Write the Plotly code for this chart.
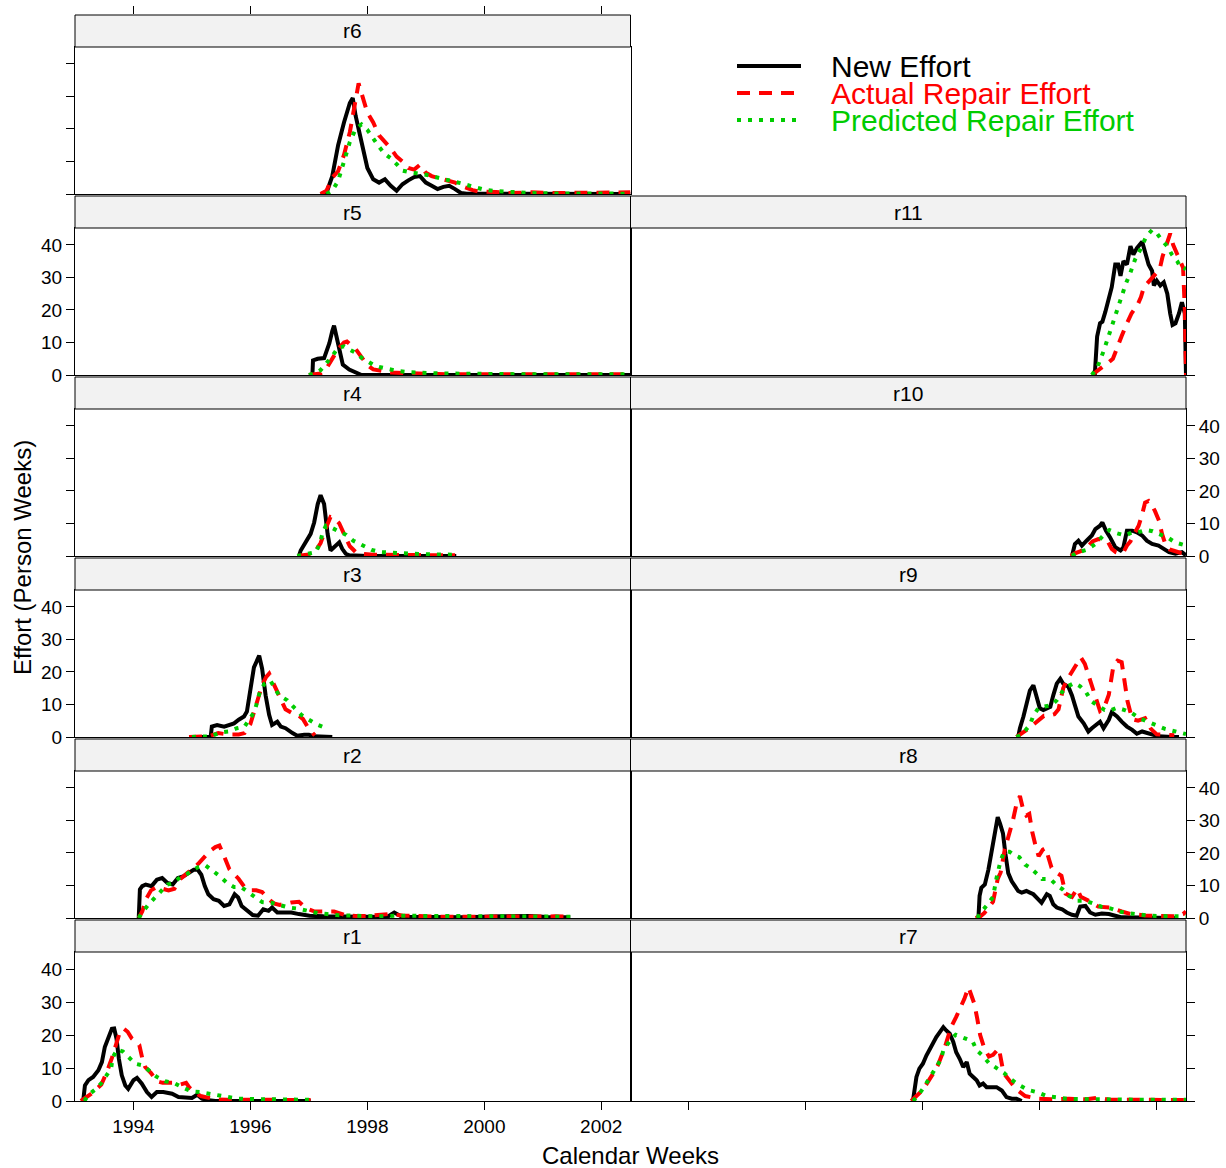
import plotly.graph_objects as go

# ---------------- data (years, person-weeks) ----------------
r6_new_x = [1997.2, 1997.3, 1997.4, 1997.5, 1997.6, 1997.7, 1997.75, 1997.8, 1997.9, 1998.0, 1998.1, 1998.2, 1998.3, 1998.4, 1998.5, 1998.6, 1998.7, 1998.8, 1998.9, 1999.0, 1999.1, 1999.2, 1999.3, 1999.4, 1999.5, 1999.6, 1999.7, 1999.8, 2000.0, 2001.0, 2002.0, 2002.5]
r6_new_y = [0, 0.3, 5.5, 15, 22, 28, 29.5, 24, 16, 8, 4.5, 3.5, 4.5, 2.5, 1, 3, 4.2, 5.2, 5.5, 3.5, 2.5, 1.5, 2.2, 2.5, 1.5, 0.3, 0.1, 0.1, 0, 0, 0, 0]
r6_act_x = [1997.2, 1997.3, 1997.4, 1997.5, 1997.6, 1997.7, 1997.8, 1997.85, 1997.9, 1998.0, 1998.1, 1998.2, 1998.3, 1998.4, 1998.5, 1998.6, 1998.7, 1998.8, 1998.9, 1999.0, 1999.1, 1999.2, 1999.3, 1999.4, 1999.5, 1999.6, 1999.7, 1999.8, 1999.9, 2000.0, 2000.2, 2000.4, 2000.8, 2001.2, 2001.6, 2002.0, 2002.5]
r6_act_y = [0, 1, 5, 7, 12, 19, 29, 34, 31, 25, 22, 18, 16, 14, 11.5, 10, 8, 7.5, 9, 6.5, 5.5, 5, 4.5, 4.2, 3.5, 2.5, 1.8, 1.2, 0.8, 0.8, 0.6, 0.3, 0.5, 0.3, 0.4, 0.3, 0.5]
r6_pred_x = [1997.3, 1997.4, 1997.5, 1997.6, 1997.7, 1997.8, 1997.9, 1998.0, 1998.1, 1998.2, 1998.3, 1998.4, 1998.5, 1998.6, 1998.7, 1998.8, 1998.9, 1999.0, 1999.1, 1999.2, 1999.3, 1999.4, 1999.5, 1999.6, 1999.7, 1999.8, 1999.9, 2000.0, 2000.2, 2000.4, 2000.6, 2000.8, 2001.0, 2001.5, 2002.0, 2002.5]
r6_pred_y = [0, 1, 4, 10, 16, 20, 21.4, 19.7, 17, 14.5, 12.3, 11, 9.2, 7.2, 6.8, 6.6, 6.2, 5.9, 5.5, 5.1, 4.8, 4.3, 3.7, 3.3, 2.8, 2.2, 1.7, 1.3, 0.9, 0.6, 0.4, 0.3, 0.2, 0.15, 0.1, 0.1]

r5_new_x = [1997.0, 1997.06, 1997.07, 1997.15, 1997.26, 1997.3, 1997.35, 1997.4, 1997.43, 1997.47, 1997.52, 1997.58, 1997.69, 1997.83, 1997.9, 2002.5]
r5_new_y = [0, 0, 4.5, 5, 5.2, 7, 9.8, 13.5, 15.2, 12, 7.8, 3.2, 1.7, 0.7, 0, 0]
r5_act_x = [1997.0, 1997.1, 1997.2, 1997.3, 1997.4, 1997.5, 1997.6, 1997.65, 1997.7, 1997.8, 1997.9, 1998.0, 1998.1, 1998.2, 1998.3, 1998.4, 1998.6, 1998.9, 1999.2, 1999.6, 2000.0, 2001.0, 2002.0, 2002.5]
r5_act_y = [0, 0.2, 0.5, 2, 5, 8, 10, 10.3, 9.5, 8, 5.5, 3, 1.7, 1.3, 1, 0.8, 0.6, 0.6, 0.3, 0.2, 0.2, 0.2, 0.2, 0.2]
r5_pred_x = [1997.0, 1997.1, 1997.2, 1997.3, 1997.4, 1997.5, 1997.6, 1997.7, 1997.8, 1997.9, 1998.0, 1998.1, 1998.2, 1998.3, 1998.4, 1998.5, 1998.7, 1998.9, 1999.2, 1999.6, 2000.0, 2001.0, 2002.5]
r5_pred_y = [0, 0.5, 1.5, 3.5, 5.8, 8.4, 8.8, 7.8, 6.8, 5.3, 4.2, 3.2, 2.5, 2, 1.6, 1.3, 0.9, 0.7, 0.5, 0.4, 0.3, 0.2, 0.2]

r4_new_x = [1996.8, 1996.83, 1996.86, 1996.95, 1997.03, 1997.09, 1997.15, 1997.2, 1997.26, 1997.32, 1997.37, 1997.43, 1997.52, 1997.57, 1997.63, 1997.69, 1998.0, 1999.52]
r4_new_y = [0, 0, 1.7, 4.7, 6.8, 10.3, 15.9, 18.7, 16, 6.8, 1.7, 2.7, 4.2, 2.2, 0.7, 0.2, 0, 0]
r4_act_x = [1996.8, 1996.9, 1997.0, 1997.1, 1997.2, 1997.3, 1997.37, 1997.45, 1997.52, 1997.6, 1997.7, 1997.8, 1997.9, 1998.1, 1998.5, 1999.0, 1999.5]
r4_act_y = [0, 0.3, 0.5, 1.2, 4, 9, 12, 11.5, 10, 6.8, 3, 1.2, 0.7, 0.4, 0.3, 0.3, 0.2]
r4_pred_x = [1996.8, 1996.95, 1997.12, 1997.19, 1997.23, 1997.29, 1997.38, 1997.52, 1997.64, 1997.76, 1997.92, 1998.07, 1998.23, 1998.4, 1998.57, 1998.75, 1998.92, 1999.09, 1999.26, 1999.5]
r4_pred_y = [0, 0.7, 1.2, 4, 6.8, 9.3, 8.8, 7.5, 6.5, 4.7, 3.2, 1.9, 1.2, 1, 0.9, 0.7, 0.6, 0.5, 0.4, 0.4]

r3_new_x = [1994.97, 1995.32, 1995.34, 1995.43, 1995.55, 1995.63, 1995.72, 1995.8, 1995.89, 1995.94, 1996.0, 1996.06, 1996.15, 1996.2, 1996.26, 1996.32, 1996.37, 1996.46, 1996.52, 1996.6, 1996.72, 1996.8, 1996.92, 1997.0, 1997.09, 1997.4]
r3_new_y = [0, 0, 3.2, 3.7, 3.2, 3.7, 4.2, 5.3, 6.3, 7.8, 14.8, 21.4, 25, 21, 12.8, 6.8, 3.7, 4.7, 3.2, 2.7, 1.2, 0.4, 0.7, 0.7, 0.2, 0]
r3_act_x = [1994.95, 1995.1, 1995.3, 1995.45, 1995.6, 1995.8, 1995.9, 1996.0, 1996.08, 1996.15, 1996.2, 1996.27, 1996.32, 1996.38, 1996.46, 1996.53, 1996.6, 1996.7, 1996.8, 1996.9, 1997.0, 1997.1]
r3_act_y = [0, 0, 0.3, 1.2, 0.8, 0.8, 1.2, 4, 8.5, 13, 16, 18.5, 19.5, 17, 14, 11, 8.5, 7.5, 7, 5.5, 2.5, 0.5]
r3_pred_x = [1995.0, 1995.32, 1995.48, 1995.63, 1995.77, 1995.9, 1996.07, 1996.16, 1996.24, 1996.34, 1996.49, 1996.63, 1996.75, 1996.87, 1997.0, 1997.13, 1997.29]
r3_pred_y = [0, 0.2, 1.4, 1.7, 2.7, 3.2, 7.8, 13.8, 16.4, 17.4, 12.8, 11.3, 9, 6.8, 5.3, 3.9, 2.7]

r2_new_x = [1994.09, 1994.11, 1994.15, 1994.21, 1994.31, 1994.4, 1994.49, 1994.58, 1994.67, 1994.76, 1994.85, 1994.94, 1995.03, 1995.1, 1995.16, 1995.22, 1995.28, 1995.37, 1995.46, 1995.55, 1995.64, 1995.73, 1995.79, 1995.85, 1995.95, 1996.04, 1996.13, 1996.22, 1996.31, 1996.37, 1996.46, 1996.58, 1996.7, 1996.83, 1997.01, 1997.25, 1997.55, 1997.86, 1998.34, 1998.46, 1998.59, 1999.07, 1999.68, 2000.29, 2000.77, 2001.08, 2001.47]
r2_new_y = [0, 8.8, 9.8, 10.3, 9.8, 11.8, 12.3, 10.8, 10.3, 12.3, 12.8, 13.8, 14.8, 14.8, 13.3, 9.8, 7.3, 5.8, 5.3, 3.7, 4.2, 7.3, 6.3, 3.7, 2.2, 0.9, 0.7, 2.7, 2.2, 3.2, 1.7, 1.7, 1.7, 1.2, 0.7, 0.5, 0.5, 0.3, 0.3, 1.7, 0.4, 0.3, 0.2, 0.5, 0.6, 0.3, 0.2]
r2_act_x = [1994.09, 1994.15, 1994.22, 1994.3, 1994.4, 1994.5, 1994.6, 1994.7, 1994.8, 1994.9, 1995.0, 1995.1, 1995.2, 1995.3, 1995.4, 1995.47, 1995.55, 1995.64, 1995.72, 1995.8, 1995.9, 1996.0, 1996.1, 1996.2, 1996.3, 1996.4, 1996.5, 1996.6, 1996.7, 1996.83, 1996.95, 1997.1, 1997.25, 1997.43, 1997.6, 1997.8, 1998.0, 1998.35, 1998.6, 1998.85, 1999.2, 1999.7, 2000.2, 2000.5, 2000.9, 2001.2, 2001.47]
r2_act_y = [0, 2, 6, 8.5, 9.5, 9, 8.5, 9, 12, 13.5, 15, 16.5, 18.5, 20.5, 21.8, 22.3, 19, 15, 13.5, 12, 9.5, 8.5, 8.5, 8, 6, 4.5, 4, 4.5, 4.8, 5, 3, 2, 2, 2, 1, 0.6, 0.6, 1.2, 0.8, 0.6, 0.4, 0.4, 0.5, 0.6, 0.6, 0.5, 0.4]
r2_pred_x = [1994.09, 1994.15, 1994.26, 1994.37, 1994.48, 1994.58, 1994.69, 1994.8, 1994.92, 1995.1, 1995.23, 1995.36, 1995.48, 1995.6, 1995.72, 1995.84, 1995.96, 1996.08, 1996.2, 1996.36, 1996.51, 1996.66, 1996.81, 1996.98, 1997.15, 1997.31, 1997.48, 1997.81, 1998.15, 1998.48, 1998.98, 1999.5, 2000.0, 2000.5, 2001.0, 2001.47]
r2_pred_y = [0, 1.7, 4.2, 6.3, 8.3, 10.3, 10.8, 12.6, 13.6, 15.6, 16.2, 14.6, 12.8, 10.8, 9.5, 9.5, 8, 6.3, 4.9, 4.7, 3.9, 3.2, 2.9, 2.2, 1.5, 1.2, 0.9, 0.7, 0.5, 0.7, 0.6, 0.5, 0.5, 0.4, 0.4, 0.4]

r1_new_x = [1993.14, 1993.17, 1993.23, 1993.31, 1993.4, 1993.46, 1993.51, 1993.57, 1993.63, 1993.67, 1993.71, 1993.75, 1993.8, 1993.86, 1993.91, 1994.0, 1994.06, 1994.14, 1994.23, 1994.31, 1994.4, 1994.51, 1994.66, 1994.77, 1994.89, 1995.0, 1995.09, 1995.17, 1995.29, 1995.4, 1997.03]
r1_new_y = [0, 4.7, 6.3, 7.3, 9.3, 11.8, 16.4, 19.4, 21.9, 22, 18.9, 12.8, 7.8, 4.7, 3.7, 6.3, 7, 5.3, 2.7, 1.2, 2.7, 2.7, 2.2, 1.2, 1.2, 0.9, 1.9, 0.7, 0.2, 0, 0]
r1_act_x = [1993.1, 1993.17, 1993.3, 1993.45, 1993.55, 1993.63, 1993.7, 1993.77, 1993.83, 1993.9, 1993.97, 1994.05, 1994.1, 1994.15, 1994.2, 1994.3, 1994.4, 1994.5, 1994.6, 1994.7, 1994.8, 1994.9, 1994.96, 1995.05, 1995.15, 1995.27, 1995.4, 1995.6, 1996.0, 1996.5, 1997.03]
r1_act_y = [0, 0.8, 2.5, 5, 9, 13, 17, 21, 22, 21, 19, 17.5, 17, 13, 10.3, 8.5, 6, 5.5, 5.5, 5.5, 5, 5.5, 4, 2.5, 1.5, 0.9, 0.5, 0.4, 0.3, 0.3, 0.3]
r1_pred_x = [1993.16, 1993.23, 1993.35, 1993.46, 1993.54, 1993.62, 1993.64, 1993.72, 1993.82, 1993.93, 1994.03, 1994.16, 1994.27, 1994.4, 1994.54, 1994.69, 1994.83, 1994.99, 1995.13, 1995.3, 1995.46, 1995.62, 1995.79, 1995.96, 1996.13, 1996.48, 1996.82, 1997.0]
r1_pred_y = [0, 1.9, 3.5, 5.6, 7.8, 10, 13, 15.6, 15, 13, 11.3, 10.8, 9.3, 7.3, 6, 5.5, 4.2, 2.9, 2.7, 2.2, 1.5, 1, 0.7, 0.6, 0.5, 0.5, 0.4, 0.4]

r11_new_x = [2000.94, 2000.96, 2000.98, 2001.03, 2001.07, 2001.12, 2001.18, 2001.23, 2001.29, 2001.34, 2001.38, 2001.43, 2001.49, 2001.55, 2001.6, 2001.66, 2001.75, 2001.8, 2001.86, 2001.92, 2001.95, 2002.0, 2002.06, 2002.12, 2002.18, 2002.23, 2002.27, 2002.32, 2002.38, 2002.43, 2002.48, 2002.5]
r11_new_y = [0, 7.8, 11.8, 15.9, 16.4, 19.4, 23.4, 27, 34, 34, 30.5, 35, 34, 39.6, 37, 39, 41, 37.6, 34, 32, 27.5, 29, 27.5, 28.5, 25, 18.9, 15.4, 15.9, 18.9, 22.4, 18.9, 0]
r11_act_x = [2000.89, 2000.97, 2001.05, 2001.15, 2001.25, 2001.32, 2001.4, 2001.48, 2001.57, 2001.67, 2001.73, 2001.78, 2001.85, 2001.93, 2002.0, 2002.05, 2002.1, 2002.17, 2002.23, 2002.28, 2002.36, 2002.45, 2002.48, 2002.5]
r11_act_y = [0, 1, 2, 3.5, 5, 8.5, 12, 15.5, 19, 21.5, 24, 27, 28.5, 30, 31.5, 32.5, 36.5, 40.5, 43.5, 40, 37, 33, 20, 0]
r11_pred_x = [2000.89, 2000.98, 2001.09, 2001.18, 2001.26, 2001.35, 2001.39, 2001.47, 2001.55, 2001.63, 2001.72, 2001.82, 2001.92, 2002.0, 2002.08, 2002.18, 2002.26, 2002.35, 2002.41, 2002.46, 2002.5]
r11_pred_y = [0, 2.2, 7.3, 12.3, 15.9, 21, 24, 28, 31.5, 35.6, 38.6, 42.6, 44.6, 43.6, 41.6, 39.6, 37, 35, 33, 33, 32.5]

r10_new_x = [2000.55, 2000.6, 2000.66, 2000.72, 2000.8, 2000.89, 2000.95, 2001.03, 2001.07, 2001.13, 2001.2, 2001.29, 2001.38, 2001.43, 2001.49, 2001.58, 2001.66, 2001.75, 2001.83, 2001.92, 2002.03, 2002.12, 2002.21, 2002.32, 2002.43, 2002.5]
r10_new_y = [0, 3.7, 4.7, 3.2, 4.7, 6.3, 8.3, 9.3, 10.3, 7.8, 5.8, 2.7, 1.7, 2.7, 7.8, 7.8, 7.3, 6.3, 4.7, 3.7, 3.2, 2.2, 1.2, 0.7, 1.2, 0.2]
r10_act_x = [2000.53, 2000.6, 2000.7, 2000.8, 2000.9, 2001.0, 2001.1, 2001.16, 2001.23, 2001.3, 2001.38, 2001.44, 2001.49, 2001.55, 2001.6, 2001.69, 2001.75, 2001.8, 2001.86, 2001.92, 2001.97, 2002.04, 2002.09, 2002.15, 2002.22, 2002.3, 2002.4, 2002.5]
r10_act_y = [0, 0.8, 1.5, 2.5, 4.5, 5.2, 5, 4.5, 2.2, 1.2, 0.7, 1.5, 3.2, 4.5, 6.3, 9.3, 12.8, 16.4, 16.9, 15.5, 13.8, 10.8, 6.8, 3.5, 2, 1.5, 1, 0.8]
r10_pred_x = [2000.55, 2000.63, 2000.8, 2000.95, 2001.11, 2001.19, 2001.32, 2001.46, 2001.58, 2001.68, 2001.81, 2001.93, 2002.03, 2002.18, 2002.31, 2002.46, 2002.5]
r10_pred_y = [0, 1, 1.9, 3.7, 6.8, 8, 7, 6.3, 7.3, 7.3, 8, 7.6, 6.8, 5.8, 4.2, 3.4, 3.2]

r9_new_x = [1999.63, 1999.66, 1999.72, 1999.78, 1999.83, 1999.89, 1999.95, 2000.0, 2000.06, 2000.12, 2000.18, 2000.23, 2000.29, 2000.35, 2000.4, 2000.49, 2000.55, 2000.6, 2000.66, 2000.75, 2000.83, 2000.89, 2000.98, 2001.03, 2001.09, 2001.18, 2001.23, 2001.32, 2001.4, 2001.49, 2001.58, 2001.66, 2001.75, 2001.83, 2001.92, 2002.03, 2002.26, 2002.38]
r9_new_y = [0, 2.7, 6.3, 10.8, 14.3, 15.9, 11.8, 8.8, 8.3, 8.8, 9.3, 12.8, 16.4, 17.9, 16.4, 15.4, 12.8, 9.8, 6.3, 4.2, 1.7, 2.7, 4.2, 4.7, 2.7, 5.3, 7.6, 6.3, 4.7, 3.2, 2.2, 1, 1.7, 1.2, 0.7, 0.2, 0, 0]
r9_act_x = [1999.6, 1999.65, 1999.72, 1999.8, 1999.9, 2000.0, 2000.07, 2000.15, 2000.25, 2000.32, 2000.4, 2000.48, 2000.58, 2000.65, 2000.7, 2000.77, 2000.83, 2000.9, 2000.97, 2001.03, 2001.1, 2001.18, 2001.26, 2001.33, 2001.4, 2001.45, 2001.5, 2001.58, 2001.68, 2001.8, 2001.9, 2002.0, 2002.2, 2002.3]
r9_act_y = [0, 0.5, 1.5, 2.5, 4, 5.5, 6.5, 6.5, 7, 8.5, 15, 18, 21, 23, 24.5, 22.5, 19, 15, 10.5, 8, 9, 13, 22, 23.5, 23, 16, 11, 5.5, 5, 5.8, 2.5, 0.8, 0.7, 0.5]
r9_pred_x = [1999.6, 1999.69, 1999.83, 1999.89, 1999.98, 2000.09, 2000.2, 2000.29, 2000.38, 2000.48, 2000.59, 2000.69, 2000.79, 2000.88, 2000.99, 2001.11, 2001.22, 2001.32, 2001.45, 2001.58, 2001.7, 2001.83, 2001.98, 2002.14, 2002.29, 2002.46, 2002.5]
r9_pred_y = [0, 0.7, 3.7, 6.6, 9, 9.3, 9.8, 11.3, 13.8, 15.6, 16.6, 15.6, 13.8, 11, 9.8, 8.3, 8.3, 9, 8.3, 7.3, 5.8, 4.7, 3.7, 2.5, 1.7, 1, 0.9]

r8_new_x = [1998.95, 1998.97, 1999.0, 1999.06, 1999.12, 1999.17, 1999.23, 1999.28, 1999.32, 1999.37, 1999.41, 1999.46, 1999.52, 1999.57, 1999.63, 1999.69, 1999.77, 1999.83, 1999.89, 1999.97, 2000.03, 2000.12, 2000.17, 2000.23, 2000.29, 2000.38, 2000.46, 2000.55, 2000.63, 2000.69, 2000.78, 2000.86, 2000.95, 2001.06, 2001.18, 2001.29, 2001.4, 2002.32]
r8_new_y = [0, 6.8, 9.3, 10.3, 14.8, 19.9, 26, 31, 29, 26, 19.9, 13.8, 11.3, 9.8, 8.3, 7.8, 8.3, 7.8, 7.3, 5.8, 4.7, 7.3, 6.8, 4.2, 3.2, 2.7, 1.7, 1, 0.7, 3.5, 3.7, 1.7, 1, 1.4, 1.2, 0.7, 0.2, 0]
r8_act_x = [1998.9, 1998.97, 1999.05, 1999.12, 1999.2, 1999.28, 1999.33, 1999.4, 1999.47, 1999.54, 1999.6, 1999.66, 1999.72, 1999.77, 1999.82, 1999.87, 1999.93, 1999.98, 2000.05, 2000.1, 2000.2, 2000.28, 2000.37, 2000.44, 2000.55, 2000.64, 2000.7, 2000.87, 2001.0, 2001.2, 2001.4, 2001.56, 2001.8, 2002.05, 2002.3, 2002.45, 2002.5]
r8_act_y = [0, 0.3, 1.5, 3, 5, 12, 14, 21, 25, 30, 35, 37.5, 33, 31.5, 32, 26.5, 22, 19, 21, 21.5, 15.5, 14, 13, 7.5, 6.5, 9, 6.5, 5, 3.5, 3.2, 2, 1.2, 0.8, 0.7, 0.5, 1.2, 2]
r8_pred_x = [1998.93, 1999.0, 1999.11, 1999.2, 1999.26, 1999.33, 1999.39, 1999.48, 1999.56, 1999.65, 1999.75, 1999.84, 1999.95, 2000.04, 2000.18, 2000.29, 2000.39, 2000.5, 2000.64, 2000.78, 2000.92, 2001.06, 2001.22, 2001.38, 2001.55, 2001.72, 2001.89, 2002.06, 2002.23, 2002.4, 2002.5]
r8_pred_y = [0, 1.9, 4.2, 6.5, 12.3, 17.7, 20.4, 20.4, 19.4, 18.7, 16.4, 15.4, 13.6, 12, 12, 10, 8.8, 6.8, 5.3, 5.3, 4.4, 3.4, 2.9, 1.9, 1.4, 1, 0.7, 0.6, 0.5, 0.5, 0.5]

r7_new_x = [1997.83, 1997.86, 1997.89, 1997.94, 1998.0, 1998.06, 1998.12, 1998.17, 1998.23, 1998.29, 1998.35, 1998.4, 1998.46, 1998.52, 1998.57, 1998.63, 1998.69, 1998.75, 1998.8, 1998.86, 1998.92, 1998.97, 1999.03, 1999.09, 1999.17, 1999.26, 1999.35, 1999.43, 1999.52, 1999.6, 1999.69]
r7_new_y = [0, 4.7, 7.3, 9.8, 11.3, 13.8, 15.9, 17.4, 19.4, 20.9, 22.4, 21.4, 20.4, 17.9, 14.8, 12.8, 10.3, 11.8, 8.3, 7.3, 6.3, 4.7, 5.3, 4.2, 4.2, 4.2, 3.2, 1.2, 0.7, 0.7, 0]
r7_act_x = [1997.8, 1997.87, 1997.95, 1998.04, 1998.12, 1998.2, 1998.26, 1998.32, 1998.37, 1998.44, 1998.5, 1998.57, 1998.64, 1998.71, 1998.78, 1998.83, 1998.88, 1998.93, 1998.98, 1999.05, 1999.13, 1999.2, 1999.3, 1999.38, 1999.5, 1999.6, 1999.75, 1999.97, 2000.2, 2000.5, 2000.8, 2000.99, 2001.2, 2001.6, 2002.0, 2002.5]
r7_act_y = [0, 1, 2.5, 4.5, 6.5, 9, 11, 13.5, 16, 20, 23, 25.5, 28, 31, 34.5, 32, 29.5, 25, 20, 16, 13.5, 14, 16, 8.5, 5.5, 3.5, 1.5, 0.7, 0.5, 0.7, 0.5, 1, 0.4, 0.3, 0.3, 0.3]
r7_pred_x = [1997.83, 1997.89, 1998.0, 1998.08, 1998.15, 1998.22, 1998.31, 1998.35, 1998.48, 1998.56, 1998.66, 1998.76, 1998.85, 1998.92, 1999.02, 1999.13, 1999.26, 1999.39, 1999.49, 1999.63, 1999.79, 1999.95, 2000.12, 2000.29, 2000.46, 2000.63, 2000.79, 2001.15, 2001.6, 2002.0, 2002.5]
r7_pred_y = [0, 1, 3.7, 6, 8, 10.3, 12.6, 15.4, 18.7, 20.1, 19.4, 18.6, 18.1, 15.4, 13.8, 11.5, 10, 8.5, 6.8, 5, 3.4, 2.7, 1.5, 1, 0.7, 0.6, 0.5, 0.5, 0.4, 0.4, 0.4]

x_tick_years = [1994, 1996, 1998, 2000, 2002]
y_tick_values = [0, 10, 20, 30, 40]
series_names = ["New Effort", "Actual Repair Effort", "Predicted Repair Effort"]

# panel name, column, row (row 0 = top)
panel_layout = [("r6", 0, 0), ("r5", 0, 1), ("r4", 0, 2), ("r3", 0, 3), ("r2", 0, 4), ("r1", 0, 5),
                ("r11", 1, 1), ("r10", 1, 2), ("r9", 1, 3), ("r8", 1, 4), ("r7", 1, 5)]

panel_data = {
    "r6": [(r6_new_x, r6_new_y), (r6_act_x, r6_act_y), (r6_pred_x, r6_pred_y)],
    "r5": [(r5_new_x, r5_new_y), (r5_act_x, r5_act_y), (r5_pred_x, r5_pred_y)],
    "r4": [(r4_new_x, r4_new_y), (r4_act_x, r4_act_y), (r4_pred_x, r4_pred_y)],
    "r3": [(r3_new_x, r3_new_y), (r3_act_x, r3_act_y), (r3_pred_x, r3_pred_y)],
    "r2": [(r2_new_x, r2_new_y), (r2_act_x, r2_act_y), (r2_pred_x, r2_pred_y)],
    "r1": [(r1_new_x, r1_new_y), (r1_act_x, r1_act_y), (r1_pred_x, r1_pred_y)],
    "r11": [(r11_new_x, r11_new_y), (r11_act_x, r11_act_y), (r11_pred_x, r11_pred_y)],
    "r10": [(r10_new_x, r10_new_y), (r10_act_x, r10_act_y), (r10_pred_x, r10_pred_y)],
    "r9": [(r9_new_x, r9_new_y), (r9_act_x, r9_act_y), (r9_pred_x, r9_pred_y)],
    "r8": [(r8_new_x, r8_new_y), (r8_act_x, r8_act_y), (r8_pred_x, r8_pred_y)],
    "r7": [(r7_new_x, r7_new_y), (r7_act_x, r7_act_y), (r7_pred_x, r7_pred_y)],
}

# ---------------- styling / layout ----------------
FONT = "Liberation Sans, Arial, Helvetica, sans-serif"
colors = ["#000000", "#FF0000", "#00CC00"]
dashes = ["solid", "13px,9px", "4px,7px"]
widths = [4, 4, 4]

W, H = 1226, 1168
ML, MR, MT, MB = 75, 40, 15, 67
PW, PH = W - ML - MR, H - MT - MB
ROW_H, STRIP_H = 181, 32
COL_EDGES = [75, 630.5, 1186]
XR = [1993.0, 2002.5]
YR = [0, 45.2]


def fx(px):
    return (px - ML) / PW


def fy(py):
    return (H - MB - py) / PH


fig = go.Figure()
layout = {}
shapes = []
annotations = []

y_label_panels = {"r5", "r3", "r1", "r10", "r8"}

for i, (name, col, row) in enumerate(panel_layout, start=1):
    sfx = "" if i == 1 else str(i)
    strip_top = MT + ROW_H * row
    plot_top = strip_top + STRIP_H
    plot_bot = strip_top + ROW_H - 2 if row < 5 else H - MB
    xdom = [fx(COL_EDGES[col]), fx(COL_EDGES[col + 1])]
    ydom = [fy(plot_bot), fy(plot_top)]

    for k, (xs, ys) in enumerate(panel_data[name]):
        fig.add_trace(go.Scatter(
            x=xs, y=ys, mode="lines", xaxis="x" + sfx, yaxis="y" + sfx,
            line=dict(color=colors[k], width=widths[k], dash=dashes[k]),
            name=series_names[k], showlegend=False, hoverinfo="skip",
        ))

    bottom_row = row == 5
    layout["xaxis" + sfx] = dict(
        domain=xdom, range=XR, anchor="y" + sfx, showgrid=False, zeroline=False,
        showline=True, mirror=True, linecolor="black", linewidth=1, automargin=False,
        tickvals=x_tick_years, ticks="outside" if bottom_row else "",
        ticklen=8, tickcolor="black",
        showticklabels=(name == "r1"), tickfont=dict(family=FONT, size=19, color="black"),
    )
    layout["yaxis" + sfx] = dict(
        domain=ydom, range=YR, anchor="x" + sfx, showgrid=False, zeroline=False,
        showline=True, mirror=True, linecolor="black", linewidth=1, automargin=False,
        side="left" if col == 0 else "right",
        tickvals=y_tick_values, ticks="outside", ticklen=8, tickcolor="black",
        showticklabels=(name in y_label_panels), tickfont=dict(family=FONT, size=19, color="black"),
    )

    # strip
    shapes.append(dict(type="rect", xref="paper", yref="paper",
                       x0=xdom[0], x1=xdom[1], y0=fy(plot_top), y1=fy(strip_top),
                       fillcolor="#F2F2F2", line=dict(color="black", width=1), layer="above"))
    annotations.append(dict(text=name, xref="paper", yref="paper",
                            x=(xdom[0] + xdom[1]) / 2, y=(fy(plot_top) + fy(strip_top)) / 2,
                            showarrow=False, xanchor="center", yanchor="middle",
                            font=dict(family=FONT, size=21, color="black")))

# top tick axis above the r6 strip
n_top = len(panel_layout) + 1
layout["xaxis%d" % n_top] = dict(
    domain=[fx(COL_EDGES[0]), fx(COL_EDGES[1])], range=XR, anchor="y%d" % n_top, side="top",
    showgrid=False, zeroline=False, showline=False, tickvals=x_tick_years, ticks="outside",
    ticklen=8, tickcolor="black", showticklabels=False, automargin=False,
)
layout["yaxis%d" % n_top] = dict(domain=[fy(MT + STRIP_H), fy(MT)], range=[0, 1],
                                 anchor="x%d" % n_top, visible=False, automargin=False)
fig.add_trace(go.Scatter(x=[None], y=[None], xaxis="x%d" % n_top, yaxis="y%d" % n_top,
                         showlegend=False, hoverinfo="skip"))

# key (legend) in the empty top-right cell
key_rows_px = [66, 93, 120]
for k in range(3):
    shapes.append(dict(type="line", xref="paper", yref="paper",
                       x0=fx(737), x1=fx(801), y0=fy(key_rows_px[k]), y1=fy(key_rows_px[k]),
                       line=dict(color=colors[k], width=widths[k], dash=dashes[k])))
    annotations.append(dict(text=series_names[k], xref="paper", yref="paper",
                            x=fx(829), y=fy(key_rows_px[k] + 1), showarrow=False,
                            xanchor="left", yanchor="middle",
                            font=dict(family=FONT, size=30, color=colors[k])))

annotations.append(dict(text="Effort (Person Weeks)", xref="paper", yref="paper",
                        x=fx(22), y=fy(558), textangle=-90, showarrow=False,
                        xanchor="center", yanchor="middle",
                        font=dict(family=FONT, size=24, color="black")))
annotations.append(dict(text="Calendar Weeks", xref="paper", yref="paper",
                        x=fx(630), y=fy(1155), showarrow=False,
                        xanchor="center", yanchor="middle",
                        font=dict(family=FONT, size=24, color="black")))

fig.update_layout(
    width=W, height=H, autosize=False,
    margin=dict(l=ML, r=MR, t=MT, b=MB, pad=0, autoexpand=False),
    paper_bgcolor="white", plot_bgcolor="white",
    font=dict(family=FONT, color="black"),
    shapes=shapes, annotations=annotations, showlegend=False,
    **layout,
)

fig.write_html("out.html", config={"displayModeBar": False, "responsive": False},
               post_script="document.body.style.margin='0px';")
